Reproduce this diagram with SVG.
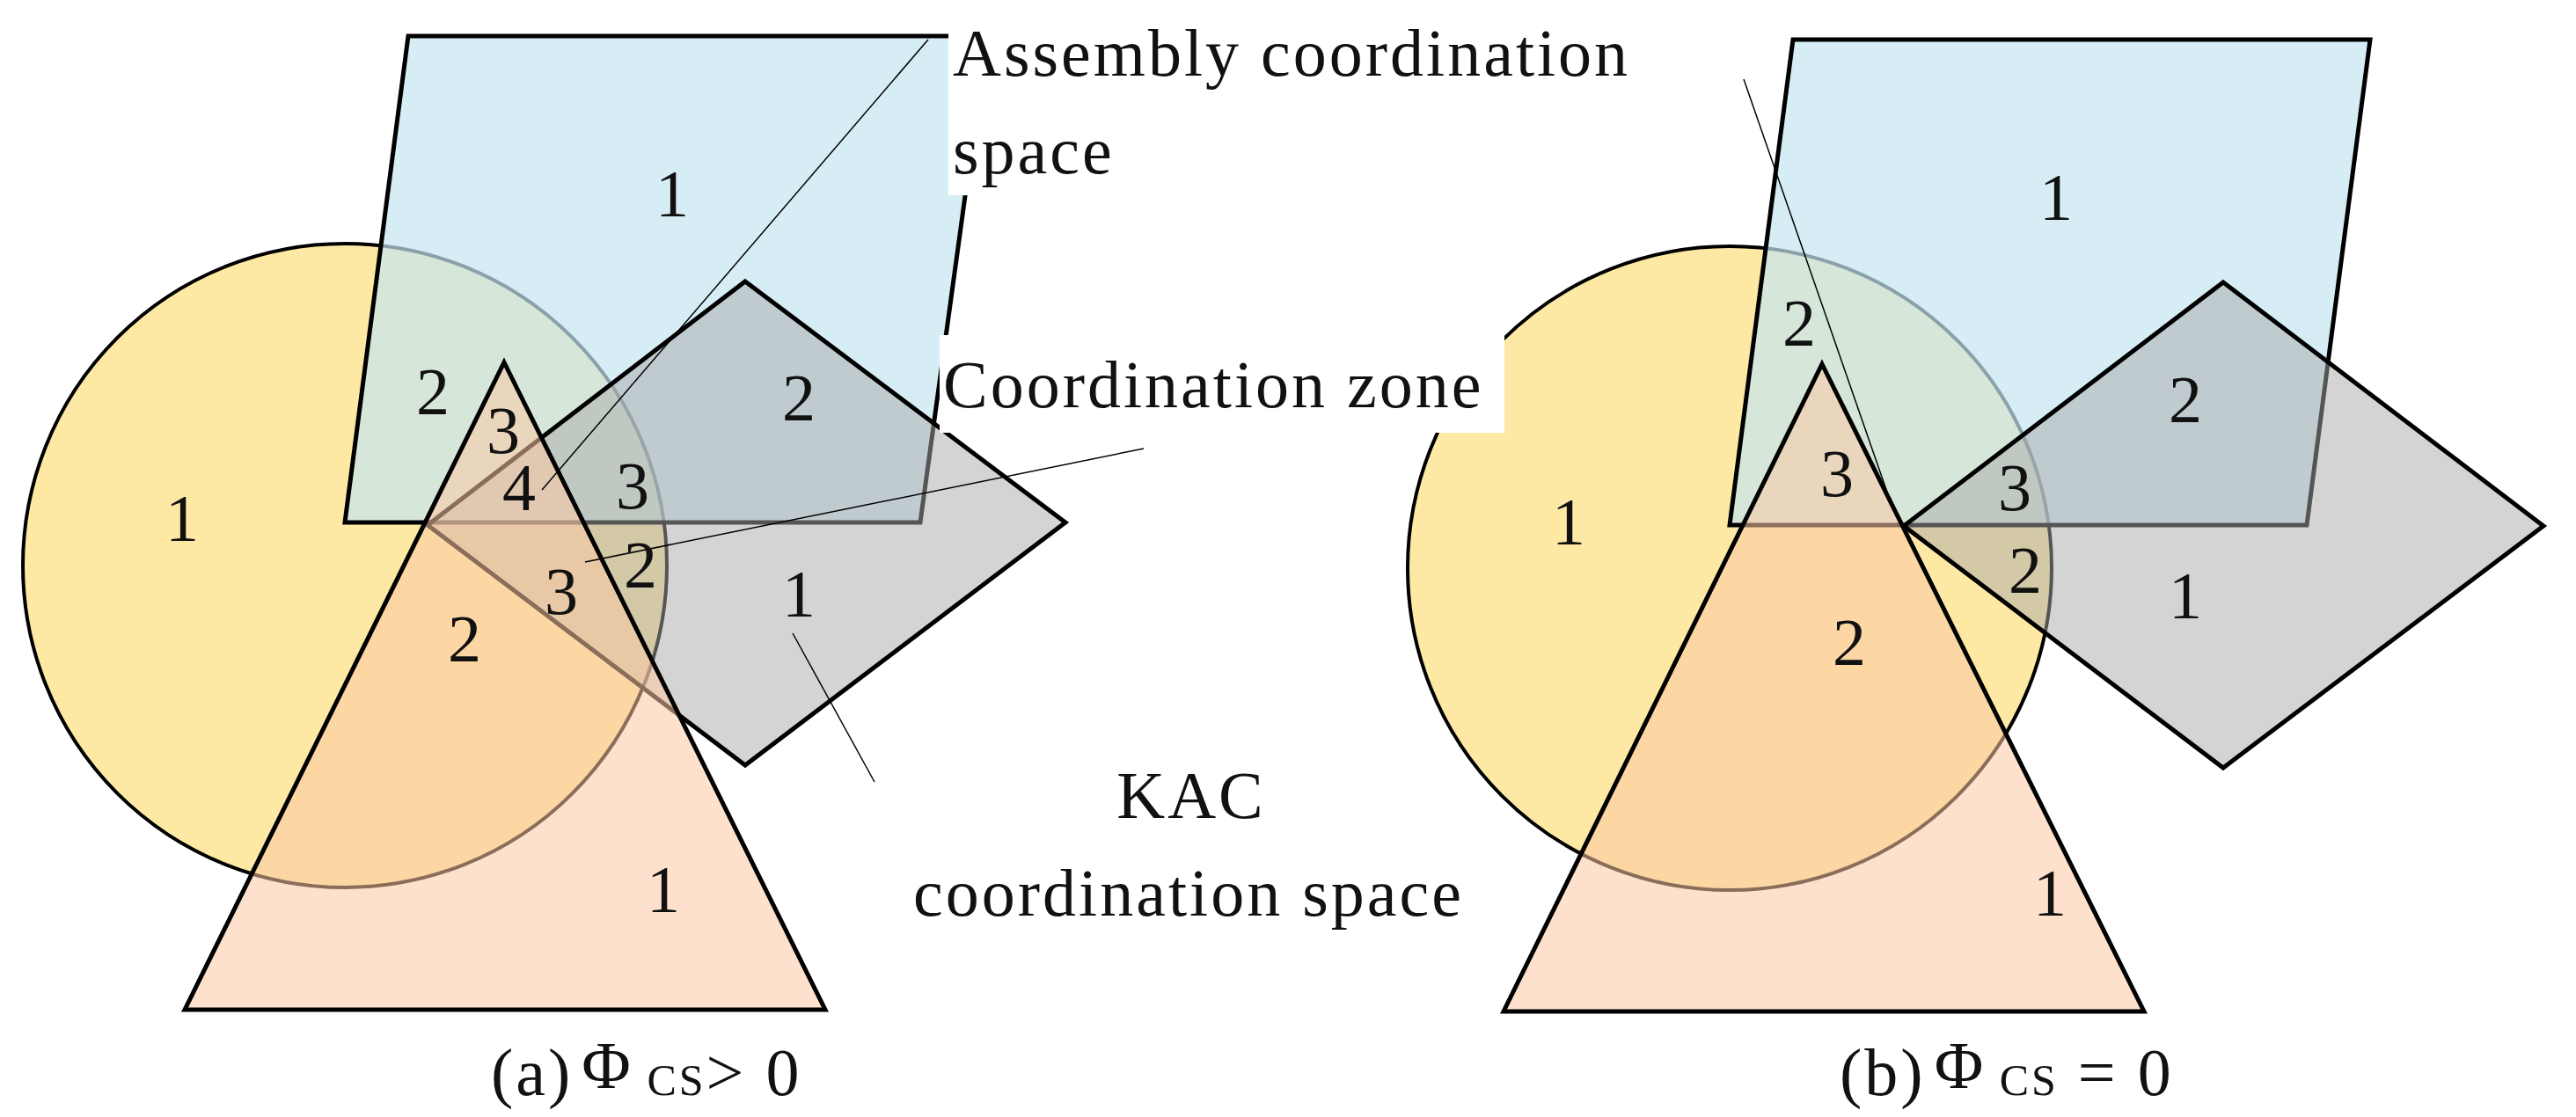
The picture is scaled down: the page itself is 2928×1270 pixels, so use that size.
<svg xmlns="http://www.w3.org/2000/svg" width="2928" height="1270" viewBox="0 0 2928 1270">
<style>
text{font-family:"Liberation Serif","DejaVu Serif",serif;fill:#111}
.n{font-size:76px;text-anchor:middle}
.l{font-size:76px;letter-spacing:3px}
.circ{fill:#fde9a4;stroke:#000;stroke-width:4}
.blue{fill:#c4e6f1;fill-opacity:0.7;stroke:#000;stroke-width:5}
.gray{fill:#a9a9a9;fill-opacity:0.5;stroke:#000;stroke-width:5}
.tri{fill:#fcc9a4;fill-opacity:0.55;stroke:#000;stroke-width:5}
.lead{stroke:#000;stroke-width:1.5;fill:none}
</style>
<rect width="2928" height="1270" fill="#fff"/>
<g id="panel-a">
<g id="a-circle"><circle class="circ" cx="392" cy="643" r="366"/></g>
<g id="a-square"><polygon class="blue" points="464,41 1122,41 1046,594 392,594"/></g>
<g id="a-diamond"><polygon class="gray" points="847,320 1211,594 847,870 486,597"/></g>
<g id="a-triangle"><polygon class="tri" points="573,412 938,1148 210,1148"/></g>
</g>
<g id="panel-b">
<g id="b-circle"><circle class="circ" cx="1966" cy="646" r="366"/></g>
<g id="b-square"><polygon class="blue" points="2038,45 2694,45 2622,597 1966,597"/></g>
<g id="b-diamond"><polygon class="gray" points="2527,321 2891,598 2527,873 2164,598"/></g>
<g id="b-triangle"><polygon class="tri" points="2071,414 2437,1150 1709,1150"/></g>
</g>
<rect x="1078" y="0" width="800" height="222" fill="#fff"/>
<rect x="1068" y="381" width="642" height="111" fill="#fff"/>
<g id="connectors">
<line class="lead" x1="1055" y1="45" x2="616" y2="557"/>
<line class="lead" x1="1300" y1="510" x2="665" y2="639"/>
<line class="lead" x1="901" y1="720" x2="994" y2="889"/>
<line class="lead" x1="1982" y1="90" x2="2150" y2="574"/>
</g>
<g id="labels">
<text class="l" x="1083" y="86">Assembly coordination</text>
<text class="l" x="1083" y="197">space</text>
<text class="l" x="1072" y="463">Coordination zone</text>
<text class="l" x="1354" y="930" text-anchor="middle">KAC</text>
<text class="l" x="1351" y="1041" text-anchor="middle">coordination space</text>
<text class="l" x="558" y="1245">(a)<tspan dx="10" dy="-8">Φ</tspan><tspan font-size="50" dy="8"> CS</tspan>&gt; 0</text>
<text class="l" x="2091" y="1245">(b)<tspan dx="10" dy="-8">Φ</tspan><tspan font-size="50" dy="8"> CS</tspan> = 0</text>
</g>
<g id="numbers-a">
<text class="n" x="764" y="246">1</text>
<text class="n" x="207" y="615">1</text>
<text class="n" x="492" y="471">2</text>
<text class="n" x="572" y="515">3</text>
<text class="n" x="590" y="580">4</text>
<text class="n" x="719" y="578">3</text>
<text class="n" x="908" y="478">2</text>
<text class="n" x="728" y="668">2</text>
<text class="n" x="638" y="698">3</text>
<text class="n" x="528" y="752">2</text>
<text class="n" x="908" y="701">1</text>
<text class="n" x="754" y="1037">1</text>
</g>
<g id="numbers-b">
<text class="n" x="2337" y="250">1</text>
<text class="n" x="2045" y="393">2</text>
<text class="n" x="2088" y="564">3</text>
<text class="n" x="1783" y="619">1</text>
<text class="n" x="2484" y="480">2</text>
<text class="n" x="2290" y="580">3</text>
<text class="n" x="2302" y="674">2</text>
<text class="n" x="2484" y="703">1</text>
<text class="n" x="2102" y="756">2</text>
<text class="n" x="2330" y="1041">1</text>
</g>
</svg>
